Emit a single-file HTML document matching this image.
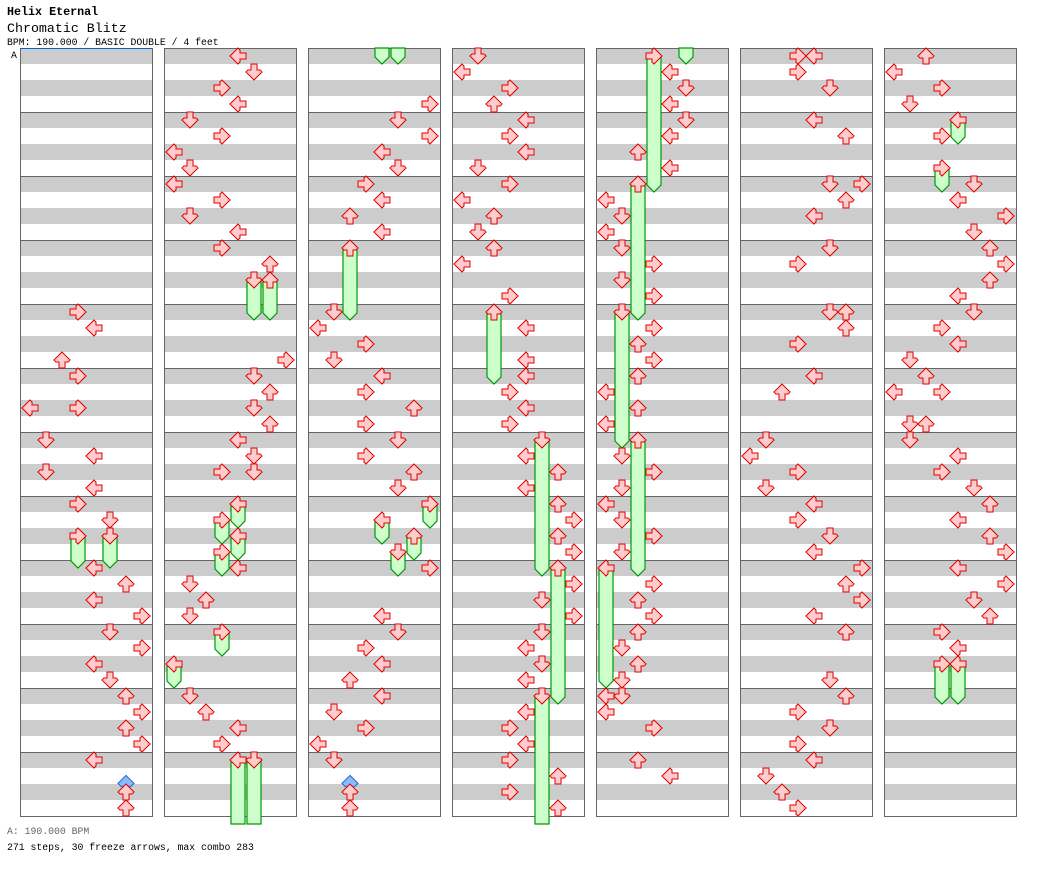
<!DOCTYPE html>
<html><head><meta charset="utf-8">
<style>
html,body{margin:0;padding:0;background:#fff;}
svg{display:block;}
text{font-family:"Liberation Mono","DejaVu Sans Mono",monospace;}
</style></head>
<body>
<svg id="chart" width="1040" height="876" viewBox="0 0 1040 876" xmlns="http://www.w3.org/2000/svg">
<text x="7" y="15" font-size="11.7" font-weight="bold">Helix Eternal</text>
<text x="7" y="32" font-size="13.3">Chromatic Blitz</text>
<text x="7" y="45" font-size="9.8">BPM: 190.000 / BASIC DOUBLE / 4 feet</text>
<text x="11" y="58" font-size="9.8">A</text>
<text x="7" y="834" font-size="9.8" fill="#666">A: 190.000 BPM</text>
<text x="7" y="850" font-size="9.8">271 steps, 30 freeze arrows, max combo 283</text>
<g id="cols"></g>
<g id="bodies"></g>
<g id="mines"></g>
<g id="arrows"></g>
<line x1="20" y1="48.5" x2="152" y2="48.5" stroke="#0066cc" stroke-width="1"/>
</svg>
<script>
const tapRows=[16,17,19,20,22,22,24,25,26,27,28,29,32,33,34,35,36,37,38,39,40,41,42,43,44,46,47,
48,49,50,51,52,53,54,55,56,57,58,59,60,61,67,68,69,70,71,72,73,74,74,80,81,82,83,88,89,90,91,
99,100,101,102,103,104,105,106,107,112,113,114,115,116,117,118,119,120,121,122,123,128,131,132,133,134,135,136,137,138,139,140,142,143,
144,145,146,147,148,149,150,151,152,153,154,155,156,157,159,161,163,164,165,166,167,169,170,171,172,173,174,175,177,178,179,180,181,182,183,185,186,187,188,189,190,191,
193,194,195,196,197,198,199,201,202,203,204,205,206,207,209,210,211,212,213,214,215,217,218,219,220,221,222,223,225,226,227,228,229,230,231,232,232,233,234,236,237,
240,240,241,242,244,245,248,248,249,250,252,253,256,256,257,258,260,261,264,265,266,267,268,269,270,271,272,273,274,275,276,279,280,281,282,283,284,285,286,287,
288,289,290,291,293,296,297,298,299,300,301,302,303,304,305,306,307,308,309,309,311,311,312,313,314,315,316,317,318,319,320,321,322,323,324,325];
const tapLanes=[3,4,2,3,0,3,1,4,1,4,3,5,4,6,4,7,5,7,4,5,6,7,6,7,4,6,6,
4,5,3,4,1,3,0,1,0,3,1,4,3,6,7,5,6,5,6,4,5,3,5,4,1,2,1,1,2,4,3,
7,5,7,4,5,3,4,2,4,1,0,3,1,4,3,6,3,5,3,6,5,7,4,5,3,4,2,4,1,3,0,1,2,2,
1,0,3,2,4,3,4,1,3,0,2,1,2,0,3,4,4,4,3,4,3,4,6,4,6,7,6,7,7,5,7,5,4,5,4,4,3,4,3,6,3,6,
4,5,4,5,4,2,4,0,1,0,1,3,1,3,3,2,3,2,0,2,0,1,3,1,0,1,3,1,3,2,3,2,1,2,1,0,1,0,3,2,4,
3,4,3,5,4,6,5,7,6,4,5,3,5,6,6,3,4,2,1,0,3,1,4,3,5,4,7,6,7,4,6,5,6,3,5,3,4,1,2,3,
2,0,3,1,3,5,4,7,5,6,7,6,4,5,3,4,1,2,0,3,1,2,1,4,3,5,6,4,6,7,4,7,5,6,3,4];
const freezeStarts=[30,30,62,62,76,77,78,79,84,86,92,92,108,124,125,126,127,160,168,176,184,192,200,208,216,224,292,295,326,326];
const freezeEnds=[31.5,31.5,64,64,77,78,79,80,85,87,96,96,112,125,126,127,128,164,176,184,192,200,208,216,224,231,293,296,328,328];
const freezeLanes=[3,5,5,6,4,3,4,3,3,0,4,5,2,7,4,6,5,2,5,6,5,3,2,1,2,0,4,3,3,4];
const mineRows=[45.4,141.4];
const mineLanes=[6,2];

const NS='http://www.w3.org/2000/svg';
const ROWS_PER_COL=48, COLS=7, TOP=48, ROW_H=16, COL_W=132, COL_GAP=144, LEFT=20;
function colOf(r){return Math.floor(r/ROWS_PER_COL);}
function xOf(c,lane){return LEFT+COL_GAP*c+10+16*lane;}
function yOf(r,c){return TOP+8+ROW_H*(r-c*ROWS_PER_COL);}
function mk(tag,attrs,parent){const e=document.createElementNS(NS,tag);for(const k in attrs)e.setAttribute(k,attrs[k]);parent.appendChild(e);return e;}

const colsG=document.getElementById('cols');
for(let c=0;c<COLS;c++){
  const x0=LEFT+COL_GAP*c;
  const g=mk('g',{},colsG);
  
  
  mk('rect',{x:x0,y:TOP,width:COL_W,height:768,fill:'#fff'},g);
  for(let s=0;s<48;s+=2){mk('rect',{x:x0,y:TOP+s*16,width:COL_W,height:16,fill:'#cccccc'},g);}
  for(let m=1;m<12;m++){mk('line',{x1:x0,x2:x0+COL_W,y1:TOP+m*64+0.5,y2:TOP+m*64+0.5,stroke:'#666','stroke-width':1},g);}
  mk('rect',{x:x0+0.5,y:TOP+0.5,width:COL_W,height:768,fill:'none',stroke:'#666','stroke-width':1},g);
}

const bodiesG=document.getElementById('bodies');
for(let i=0;i<freezeStarts.length;i++){
  const s=freezeStarts[i], e=freezeEnds[i], ln=freezeLanes[i];
  for(let c=colOf(s);c<=colOf(e);c++){
    const cx=xOf(c,ln);
    let y0=yOf(s,c), y1=yOf(e,c); let tail=true;
    if(y0<TOP){y0=TOP;}
    if(y1>TOP+768){y1=TOP+776;tail=false;}
    if(y1<=TOP+1)continue;
    const pts=tail?[[cx-7,y0],[cx+7,y0],[cx+7,y1+1],[cx,y1+8],[cx-7,y1+1]]:[[cx-7,y0],[cx+7,y0],[cx+7,y1],[cx-7,y1]];
    const p=mk('polygon',{points:pts.map(q=>q.join(',')).join(' '),fill:'#ccffcc',stroke:'#009900','stroke-width':1.2},bodiesG);
    
    
  }
}

const minesG=document.getElementById('mines');
for(let i=0;i<mineRows.length;i++){
  const c=colOf(mineRows[i]); const cx=xOf(c,mineLanes[i]); const cy=yOf(mineRows[i],c);
  const p=mk('polygon',{points:`${cx},${cy-7} ${cx+8},${cy+1} ${cx+5},${cy+4} ${cx-5},${cy+4} ${cx-8},${cy+1}`,fill:'#88bbff',stroke:'#2266cc','stroke-width':1},minesG);
  
  
}

const arrowsG=document.getElementById('arrows');
const ROT=[-90,180,0,90];
const SHAPE='0,-8 8,0 6,2 3,2 3,8 -3,8 -3,2 -6,2 -8,0';
function drawArrow(r,ln){
  const c=colOf(r); const cx=xOf(c,ln); const cy=yOf(r,c);
  const p=mk('polygon',{points:SHAPE,fill:'#ffcccc',stroke:'#dd0000','stroke-width':1,transform:`translate(${cx},${cy}) rotate(${ROT[ln%4]})`},arrowsG);
  
  
}
for(let i=0;i<freezeStarts.length;i++)drawArrow(freezeStarts[i],freezeLanes[i]);
for(let i=0;i<tapRows.length;i++)drawArrow(tapRows[i],tapLanes[i]);
</script>
</body></html>
